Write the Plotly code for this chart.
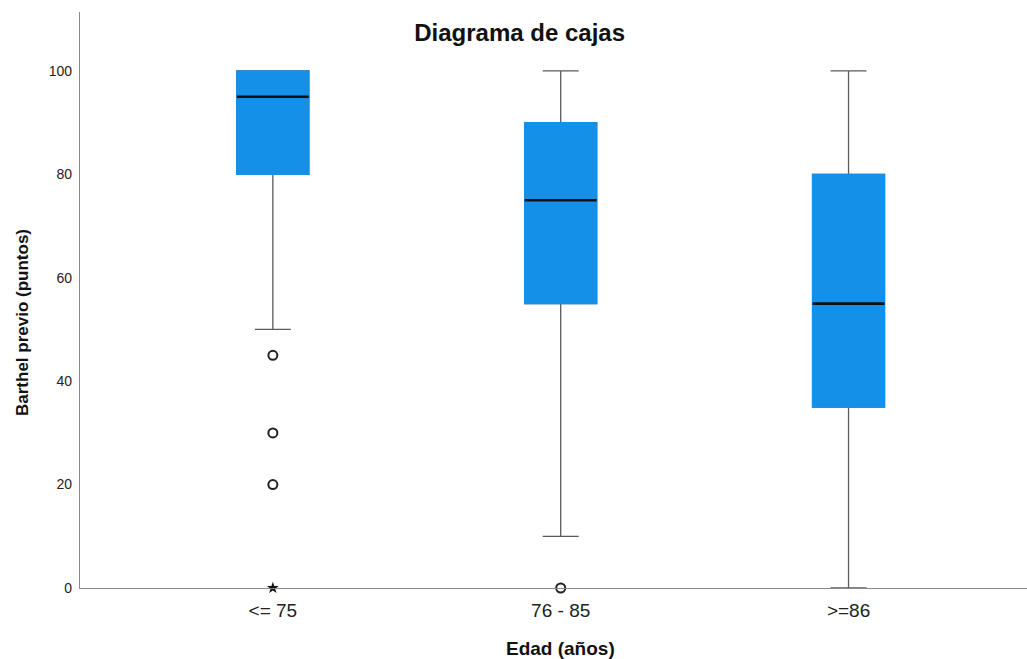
import plotly.graph_objects as go

# Summary statistics per age group (Barthel index, points)
groups = ["<= 75", "76 - 85", ">=86"]
q1 = [80, 55, 35]
median = [95, 75, 55]
q3 = [100, 90, 80]
lower_whisker = [50, 10, 0]
upper_whisker = [100, 100, 100]

# Outliers (circles) and extreme values (stars)
outlier_x = ["<= 75", "<= 75", "<= 75", "76 - 85"]
outlier_y = [45, 30, 20, 0]
extreme_x = ["<= 75"]
extreme_y = [0]

y_ticks = [0, 20, 40, 60, 80, 100]

BOX_BLUE = "#1490E8"
WHISKER_GRAY = "#5a5a5a"
AXIS_GRAY = "#8a8a8a"
BOX_W = 0.25

fig = go.Figure()

# Whiskers and caps (gray)
fig.add_trace(go.Box(
    x=groups, q1=q1, median=median, q3=q3,
    lowerfence=lower_whisker, upperfence=upper_whisker,
    width=BOX_W, whiskerwidth=0.5,
    line=dict(color=WHISKER_GRAY, width=1.3),
    fillcolor=BOX_BLUE, boxpoints=False, hoverinfo="skip",
    showlegend=False,
))

# Filled box with no visible outline
fig.add_trace(go.Box(
    x=groups, q1=q1, median=q1, q3=q3,
    lowerfence=q1, upperfence=q3,
    width=BOX_W, whiskerwidth=0,
    line=dict(color=BOX_BLUE, width=1.3),
    fillcolor=BOX_BLUE, boxpoints=False, hoverinfo="skip",
    showlegend=False,
))

# Median line (black)
fig.add_trace(go.Box(
    x=groups, q1=median, median=median, q3=median,
    lowerfence=median, upperfence=median,
    width=BOX_W, whiskerwidth=0,
    line=dict(color="#111111", width=2.6),
    fillcolor="rgba(0,0,0,0)", boxpoints=False, hoverinfo="skip",
    showlegend=False,
))

fig.add_trace(go.Scatter(
    x=outlier_x, y=outlier_y, mode="markers",
    marker=dict(symbol="circle-open", size=9, color="#222222",
                line=dict(width=2, color="#222222")),
    cliponaxis=False, showlegend=False,
))
fig.add_trace(go.Scatter(
    x=extreme_x, y=extreme_y, mode="markers",
    marker=dict(symbol="star", size=9, color="#111111"),
    cliponaxis=False, showlegend=False,
))

fig.update_layout(
    width=1027, height=659,
    margin=dict(l=80, r=0, t=12, b=71),
    paper_bgcolor="white", plot_bgcolor="white",
    boxmode="overlay",
    font=dict(family="Liberation Sans, Arial, sans-serif", color="#222222"),
    title=dict(text="<b>Diagrama de cajas</b>", x=0.506, xanchor="center",
               y=1 - 33 / 659, yanchor="middle",
               font=dict(size=24, color="#111111")),
    xaxis=dict(
        type="category", categoryorder="array", categoryarray=groups,
        range=[-0.67, 2.62], showgrid=False, zeroline=False,
        showline=True, linecolor=AXIS_GRAY, linewidth=1.2,
        ticks="", tickfont=dict(size=19, color="#222222"),
        ticklabelstandoff=5,
    ),
    yaxis=dict(
        range=[0, 111.4], tickvals=y_ticks, showgrid=False, zeroline=False,
        showline=True, linecolor=AXIS_GRAY, linewidth=1.2,
        ticks="", tickfont=dict(size=14, color="#222222"),
        ticklabelstandoff=4,
    ),
    annotations=[
        dict(text="<b>Barthel previo (puntos)</b>", xref="paper", yref="paper",
             x=(22 - 80) / 947, y=(588 - 323) / 576, textangle=-90,
             showarrow=False, xanchor="center", yanchor="middle",
             font=dict(size=17, color="#111111")),
        dict(text="<b>Edad (años)</b>", xref="paper", yref="paper",
             x=(560 - 80) / 947, y=(588 - 648) / 576,
             showarrow=False, xanchor="center", yanchor="middle",
             font=dict(size=19, color="#111111")),
    ],
)

fig.write_html("out.html")
